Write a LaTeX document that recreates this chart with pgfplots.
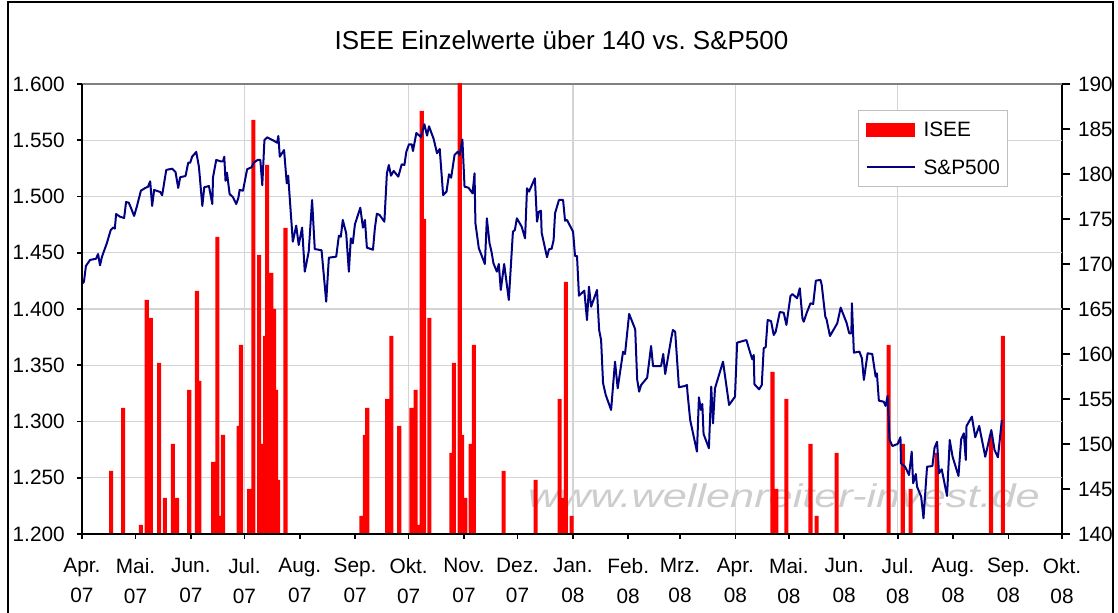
\documentclass[border=0pt]{standalone}
\usepackage{fontspec}
\setmainfont{Liberation Sans}
\usepackage{pgfplots}
\pgfplotsset{compat=1.18}
\definecolor{spblue}{RGB}{0,0,128}
\definecolor{gridgray}{RGB}{212,212,212}
\definecolor{wmgray}{RGB}{205,205,205}

\begin{document}
\begin{tikzpicture}
\path[use as bounding box] (0,0) rectangle (559pt,306.5pt);
% chart frame
\draw[line width=0.8pt] (4pt,-2pt) -- (4pt,305.5pt) -- (556.5pt,305.5pt) -- (556.5pt,-2pt);
\node[anchor=base, font=\fontsize{13}{15}\selectfont] at (280.75pt,281.5pt)
  {ISEE Einzelwerte über 140 vs.\ S\&P500};
% watermark
\node[anchor=base, text=wmgray, font=\fontsize{16.4}{18}\selectfont\itshape, xscale=1.32]
  at (392pt,52.5pt) {www.wellenreiter-invest.de};

% ISEE bars, right axis
\begin{axis}[
  at={(41pt,39.5pt)}, anchor=south west,
  scale only axis, width=490pt, height=225pt,
  xmin=0, xmax=549, ymin=140, ymax=190,
  axis x line*=bottom, axis y line*=right,
  every outer x axis line/.append style={-},
  every outer y axis line/.append style={-},
  axis line style={line width=0.8pt, black},
  xtick=\empty,
  extra x ticks={91,183,275,366,457},
  extra x tick labels={},
  extra x tick style={grid=major, major tick length=0pt},
  ytick={140,145,...,190},
  extra y ticks={146.25,152.5,158.75,165,171.25,177.5,183.75},
  extra y tick labels={},
  extra y tick style={grid=major, major tick length=0pt},
  major grid style={gridgray, line width=0.6pt},
  tick align=outside, major tick length=4pt,
  tick style={line width=0.8pt, black},
  yticklabel style={font=\fontsize{10.4}{12}\selectfont, xshift=0.5pt},
  /pgf/number format/assume math mode=true,
]
\draw[gray, line width=0.8pt] (rel axis cs:0,1) -- (rel axis cs:1,1);
\addplot[ybar, bar width=2.3, bar shift=0pt, fill=red, draw=none] coordinates {
(16.3,147) (23.0,154) (33.0,141) (36.3,166) (38.6,164) (43.2,159) (46.4,144)
(50.9,150) (53.3,144) (60.1,156) (64.4,167) (65.7,157) (73.5,148) (75.8,173)
(77.3,142) (79.0,151) (87.7,152) (89.1,161) (93.6,145) (96.0,186) (99.2,171)
(100.9,150) (102.6,162) (103.7,181) (106.1,169) (107.6,165) (108.7,156) (109.9,146)
(114.0,174) (156.6,142) (158.5,151) (159.8,154) (171.0,155) (173.3,162) (177.7,152)
(184.5,154) (186.9,156) (188.2,141) (190.3,187) (191.6,175) (194.6,164) (207.0,149)
(208.3,159) (211.6,191) (212.9,151) (214.8,144) (217.8,150) (219.5,161) (236.2,147)
(254.1,146) (267.6,155) (269.3,144) (271.1,168) (274.3,142) (386.8,158) (389.0,145)
(394.6,155) (408.1,150) (411.5,142) (422.7,149) (451.9,161) (459.8,150) (464.2,145)
(478.8,149) (509.2,151) (515.9,162)
};
\end{axis}

% S&P500 line, left axis
\begin{axis}[
  at={(41pt,39.5pt)}, anchor=south west,
  scale only axis, width=490pt, height=225pt,
  xmin=0, xmax=549, ymin=1200, ymax=1600,
  axis x line*=bottom, axis y line*=left,
  every outer x axis line/.append style={-},
  every outer y axis line/.append style={-},
  axis line style={line width=0.8pt, black},
  xtick={0,30,61,91,122,153,183,214,244,275,306,335,366,396,427,457,488,519,549},
  xticklabels={Apr.\\07,Mai.\\07,Jun.\\07,Jul.\\07,Aug.\\07,Sep.\\07,Okt.\\07,Nov.\\07,Dez.\\07,
    Jan.\\08,Feb.\\08,Mrz.\\08,Apr.\\08,Mai.\\08,Jun.\\08,Jul.\\08,Aug.\\08,Sep.\\08,Okt.\\08},
  ytick={1200,1250,...,1600},
  yticklabels={1.200,1.250,1.300,1.350,1.400,1.450,1.500,1.550,1.600},
  tick align=outside, major tick length=2.6pt,
  tick style={line width=0.8pt, black},
  xticklabel style={align=center, font=\fontsize{10.4}{15}\selectfont, yshift=-6pt},
  yticklabel style={font=\fontsize{10.4}{12}\selectfont, xshift=-2.5pt},
  legend style={at={(0.792,0.942)}, anchor=north west, draw=gray!50, fill=white,
    inner xsep=3.5pt, inner ysep=0pt, row sep=0pt,
    font=\fontsize{10.4}{12}\selectfont,
    nodes={inner ysep=0pt, inner xsep=0pt, text height=13.2pt, text depth=5.8pt}},
  legend cell align=left,
]
\addlegendimage{legend image code/.code={\fill[red] (0pt,-3.25pt) rectangle (24pt,3.25pt);
  \path (28pt,0pt);}}
\addlegendentry{ISEE}
\addplot[spblue, line width=1pt, line join=round,
  legend image code/.code={\draw[spblue, line width=1pt] (0pt,0pt) -- (24pt,0pt);
  \path (28pt,0pt);}]
coordinates {
(0.4,1422.8) (1.1,1424.3) (2.2,1438.2) (4.5,1443.6) (7.9,1444.7) (9.0,1448.9)
(10.1,1438.8) (11.2,1446.5) (13.9,1458.4) (16.1,1470.2) (17.6,1472.6) (18.4,1471.4)
(19.1,1484.4) (21.3,1482.0) (23.6,1480.9) (24.7,1495.1) (26.2,1494.5) (27.3,1490.4)
(29.2,1482.7) (30.7,1490.9) (33.0,1505.2) (35.5,1507.6) (37.0,1508.7) (38.2,1513.5)
(39.3,1491.6) (40.4,1505.8) (43.8,1504.0) (44.9,1501.1) (47.2,1523.6) (50.5,1524.7)
(52.4,1521.8) (53.9,1507.6) (55.0,1517.1) (58.0,1518.2) (59.5,1530.0) (60.6,1530.0)
(61.7,1535.4) (64.0,1539.6) (65.5,1526.5) (67.4,1491.6) (68.5,1508.2) (71.1,1509.3)
(73.0,1493.3) (73.4,1517.1) (75.2,1532.5) (77.5,1531.3) (79.0,1531.3) (79.7,1535.4)
(80.4,1514.0) (81.2,1521.2) (82.7,1502.2) (84.6,1499.3) (86.4,1493.3) (87.6,1498.7)
(88.3,1505.8) (90.2,1505.2) (92.5,1524.2) (95.0,1526.0) (96.2,1530.0) (98.4,1532.5)
(99.9,1532.5) (101.0,1510.0) (102.2,1550.2) (103.7,1552.6) (107.4,1549.6) (109.3,1547.8)
(110.0,1553.8) (110.8,1535.4) (113.2,1541.3) (114.7,1511.7) (115.5,1518.5) (118.1,1459.8)
(120.0,1474.1) (121.4,1456.9) (123.3,1472.3) (124.8,1433.2) (127.0,1450.9) (128.9,1496.9)
(130.4,1453.3) (134.2,1452.2) (136.8,1406.5) (138.3,1445.6) (142.4,1446.5) (143.9,1465.2)
(145.0,1464.3) (146.1,1479.1) (148.0,1467.3) (149.5,1433.2) (150.6,1462.8) (151.7,1458.4)
(152.9,1475.3) (155.9,1490.0) (157.4,1472.3) (158.5,1479.1) (159.6,1454.5) (163.0,1452.7)
(164.1,1472.3) (165.2,1484.7) (166.7,1483.6) (169.4,1477.6) (170.8,1520.6) (171.9,1528.0)
(173.1,1518.5) (174.6,1522.7) (177.2,1517.6) (179.1,1528.6) (180.6,1528.0) (181.7,1539.8)
(183.2,1546.4) (184.7,1546.4) (185.4,1540.4) (187.3,1556.4) (189.9,1552.9) (191.8,1564.2)
(193.3,1554.1) (194.4,1562.4) (197.0,1551.1) (198.9,1538.4) (200.4,1542.2) (202.3,1501.3)
(204.2,1504.3) (205.6,1519.7) (206.8,1516.7) (208.7,1536.9) (210.5,1539.8) (211.6,1536.9)
(213.1,1550.5) (214.3,1508.7) (216.5,1507.8) (218.8,1502.8) (219.9,1520.6) (220.4,1476.2)
(222.3,1454.0) (225.7,1440.0) (226.8,1480.6) (228.3,1458.4) (229.4,1450.9) (230.5,1440.6)
(232.4,1433.2) (233.5,1440.0) (234.6,1416.9) (236.5,1440.0) (239.1,1408.0) (241.4,1468.7)
(242.5,1470.2) (243.6,1480.6) (246.3,1473.2) (248.2,1462.8) (249.3,1507.3) (250.4,1504.3)
(251.5,1508.2) (253.7,1516.2) (254.9,1477.6) (256.0,1486.5) (257.1,1487.4) (257.5,1467.8)
(260.5,1446.0) (261.6,1453.1) (263.1,1453.6) (264.2,1461.3) (265.0,1485.1) (267.2,1496.9)
(269.5,1496.9) (270.6,1478.5) (271.7,1479.1) (275.1,1468.7) (276.2,1447.1) (277.3,1447.1)
(278.4,1411.8) (281.4,1416.3) (282.9,1390.2) (284.0,1419.8) (285.2,1402.0) (288.5,1416.9)
(289.7,1381.3) (290.8,1372.4) (291.9,1334.0) (293.4,1323.6) (296.4,1310.2) (298.6,1353.2)
(300.1,1329.5) (303.1,1362.0) (304.2,1360.0) (306.5,1395.6) (309.9,1382.0) (311.0,1337.5)
(312.1,1326.5) (313.2,1332.4) (316.6,1338.9) (318.8,1367.1) (319.9,1349.3) (324.4,1349.3)
(325.6,1360.0) (326.7,1342.2) (330.1,1374.0) (331.0,1381.3) (332.3,1379.8) (334.4,1330.4)
(337.8,1331.6) (338.9,1332.4) (339.2,1325.6) (340.7,1301.3) (344.5,1273.2) (345.6,1321.5)
(346.7,1310.2) (347.5,1315.6) (348.2,1288.9) (351.2,1276.2) (352.5,1330.9) (353.5,1298.4)
(354.6,1329.5) (359.1,1353.2) (362.5,1314.7) (365.8,1322.0) (367.0,1370.1) (368.8,1370.9)
(372.2,1372.4) (374.4,1360.6) (375.5,1355.3) (376.3,1359.1) (376.7,1333.1) (379.3,1328.6)
(380.8,1332.4) (381.9,1365.1) (383.0,1366.0) (384.1,1390.2) (386.0,1389.3) (387.5,1376.9)
(388.6,1379.8) (390.9,1397.3) (393.1,1396.7) (394.6,1385.8) (396.9,1411.6) (398.0,1413.3)
(400.6,1409.5) (402.1,1418.4) (403.6,1391.7) (404.3,1388.7) (405.9,1396.2) (408.1,1405.1)
(409.6,1404.4) (411.1,1425.2) (413.7,1425.8) (414.4,1421.3) (416.4,1393.2) (417.1,1390.8)
(419.0,1376.0) (423.1,1387.3) (425.0,1401.2) (428.3,1387.8) (429.8,1378.4) (431.0,1378.4)
(431.3,1405.1) (432.4,1361.2) (435.5,1362.1) (436.9,1356.2) (438.0,1336.9) (440.1,1360.6)
(442.7,1360.0) (444.6,1339.8) (445.3,1342.8) (446.4,1318.5) (449.1,1317.6) (450.2,1313.8)
(451.3,1322.7) (452.4,1283.6) (454.0,1278.2) (456.9,1280.0) (458.5,1286.0) (458.8,1262.8)
(461.1,1259.8) (463.3,1252.4) (464.8,1273.2) (465.6,1245.1) (467.1,1253.3) (467.8,1242.0)
(470.1,1233.2) (471.4,1214.0) (473.4,1259.8) (476.4,1260.4) (477.6,1276.7) (479.0,1282.0)
(480.1,1254.0) (481.6,1257.5) (484.6,1233.8) (486.1,1283.6) (487.7,1268.7) (491.0,1251.6)
(492.5,1284.2) (494.0,1289.5) (495.1,1265.8) (495.5,1296.0) (498.5,1304.3) (500.4,1286.0)
(502.6,1296.0) (506.0,1268.7) (509.4,1292.4) (511.2,1274.7) (513.1,1268.2) (515.3,1301.3)
};
\addlegendentry{S\&P500}
\end{axis}
\end{tikzpicture}
\end{document}
